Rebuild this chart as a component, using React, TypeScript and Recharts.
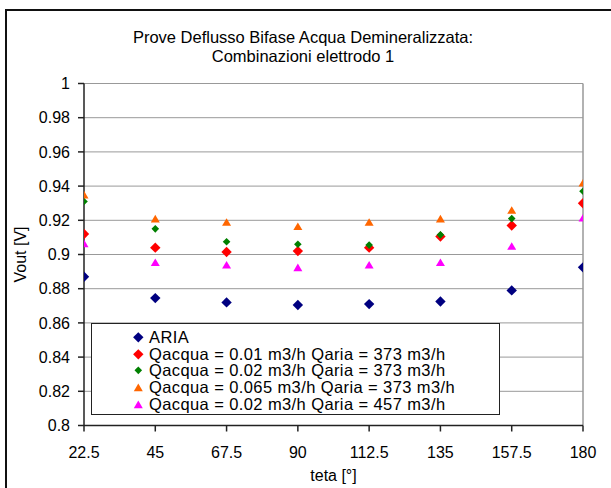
import React from 'react';
import {
  ScatterChart,
  Scatter,
  XAxis,
  YAxis,
  CartesianGrid,
  ReferenceLine,
  Legend,
  Label,
} from 'recharts';

const titleLines = ['Prove Deflusso Bifase Acqua Demineralizzata:', 'Combinazioni elettrodo 1'];
const xTitle = 'teta [°]';
const yTitle = 'Vout [V]';

const theta = [22.5, 45, 67.5, 90, 112.5, 135, 157.5, 180];
const xTicks = [22.5, 45, 67.5, 90, 112.5, 135, 157.5, 180];
const yTicks = [0.8, 0.82, 0.84, 0.86, 0.88, 0.9, 0.92, 0.94, 0.96, 0.98, 1];

const aria = [0.887, 0.8745, 0.872, 0.8705, 0.871, 0.8725, 0.879, 0.8925];
const q001 = [0.912, 0.904, 0.9015, 0.902, 0.904, 0.9105, 0.917, 0.93];
const q002 = [0.931, 0.915, 0.9075, 0.906, 0.9055, 0.9115, 0.921, 0.937];
const q0065 = [0.935, 0.921, 0.919, 0.9165, 0.919, 0.921, 0.926, 0.942];
const q002b = [0.9065, 0.8955, 0.894, 0.8925, 0.894, 0.8955, 0.905, 0.9215];

const seriesNames = [
  'ARIA',
  'Qacqua = 0.01 m3/h Qaria = 373 m3/h',
  'Qacqua = 0.02 m3/h Qaria = 373 m3/h',
  'Qacqua = 0.065 m3/h Qaria = 373 m3/h',
  'Qacqua = 0.02 m3/h Qaria = 457 m3/h',
];
const seriesValues = [aria, q001, q002, q0065, q002b];
const seriesColors = ['#000080', '#FF0000', '#008000', '#FF6600', '#FF00FF'];
const seriesShapes = ['diamond', 'diamond', 'smallDiamond', 'triangle', 'triangle'];

const FONT = '"Liberation Sans", Arial, sans-serif';

function markerPath(kind: string, cx: number, cy: number): string {
  if (kind === 'diamond') {
    const r = 5.2;
    return `M${cx},${cy - r}L${cx + r},${cy}L${cx},${cy + r}L${cx - r},${cy}Z`;
  }
  if (kind === 'smallDiamond') {
    const r = 3.8;
    return `M${cx},${cy - r}L${cx + r},${cy}L${cx},${cy + r}L${cx - r},${cy}Z`;
  }
  const w = 4.5;
  const h = 3.8;
  return `M${cx},${cy - h}L${cx + w},${cy + h}L${cx - w},${cy + h}Z`;
}

const makeShape = (kind: string, color: string) => (props: any) => {
  const { cx, cy } = props;
  if (cx == null || cy == null) return <g />;
  return <path d={markerPath(kind, cx, cy)} fill={color} stroke="none" />;
};

const seriesData = seriesValues.map((vals) => theta.map((t, i) => ({ x: t, y: vals[i] })));

const LegendBox = () => (
  <div
    style={{
      boxSizing: 'border-box',
      width: 409,
      height: 92,
      border: '1.5px solid #222',
      background: '#fff',
      paddingTop: 5,
      fontFamily: FONT,
      fontSize: 16.5,
      letterSpacing: '0.4px',
      color: '#000',
    }}
  >
    {seriesNames.map((n, i) => (
      <div key={n} style={{ display: 'flex', alignItems: 'center', height: 16.7, lineHeight: '16.7px', whiteSpace: 'nowrap' }}>
        <svg width={57} height={16.7} style={{ flex: 'none' }}>
          <path d={markerPath(seriesShapes[i], 46.3, 8.35)} fill={seriesColors[i]} />
        </svg>
        <span>{n}</span>
      </div>
    ))}
  </div>
);

const fmtY = (v: number) => String(Number(v.toFixed(2)));

export default function App() {
  return (
    <div style={{ position: 'absolute', left: 0, top: 0, width: 611, height: 488, overflow: 'hidden', background: '#fff' }}>
      <div
        style={{
          position: 'absolute',
          left: 5,
          top: 9,
          width: 700,
          height: 700,
          border: '2px solid #111',
          boxSizing: 'border-box',
        }}
      />
      <div style={{ position: 'absolute', left: 0, top: 0 }}>
        <ScatterChart width={611} height={488} margin={{ top: 83.5, right: 28, bottom: 22.5, left: 0 }}>
          <CartesianGrid vertical={false} stroke="#999" strokeWidth={1} />
          <ReferenceLine x={180} stroke="#999" strokeWidth={1.5} ifOverflow="visible" />
          <XAxis
            type="number"
            dataKey="x"
            domain={[22.5, 180]}
            ticks={xTicks}
            interval={0}
            allowDataOverflow
            height={40}
            tickSize={6}
            tickMargin={15}
            axisLine={{ stroke: '#222', strokeWidth: 1.5 }}
            tickLine={{ stroke: '#222', strokeWidth: 1.5 }}
            tick={{ fill: '#000', fontSize: 16, fontFamily: FONT }}
          >
            <Label value={xTitle} position="bottom" offset={4} style={{ fontSize: 16, fontFamily: FONT, fill: '#000' }} />
          </XAxis>
          <YAxis
            type="number"
            dataKey="y"
            domain={[0.8, 1]}
            ticks={yTicks}
            interval={0}
            allowDataOverflow
            width={84}
            tickSize={6}
            tickMargin={8}
            tickFormatter={fmtY}
            axisLine={{ stroke: '#222', strokeWidth: 1.5 }}
            tickLine={{ stroke: '#222', strokeWidth: 1.5 }}
            tick={{ fill: '#000', fontSize: 16, fontFamily: FONT }}
          >
            <Label
              value={yTitle}
              angle={-90}
              position="insideLeft"
              offset={20}
              style={{ textAnchor: 'middle', fontSize: 16, fontFamily: FONT, fill: '#000' }}
            />
          </YAxis>
          <Legend
            layout="vertical"
            align="center"
            verticalAlign="middle"
            content={() => <LegendBox />}
            wrapperStyle={{ position: 'absolute', left: 91, top: 323, width: 409, height: 92 }}
          />
          {seriesNames.map((n, i) => (
            <Scatter
              key={n}
              name={n}
              data={seriesData[i]}
              fill={seriesColors[i]}
              shape={makeShape(seriesShapes[i], seriesColors[i])}
              isAnimationActive={false}
            />
          ))}
        </ScatterChart>
      </div>
      <svg width={611} height={80} style={{ position: 'absolute', left: 0, top: 0 }}>
        <text x={303} y={42.5} textAnchor="middle" fontFamily={FONT} fontSize={16.5} fill="#000">
          {titleLines[0]}
        </text>
        <text x={303} y={62} textAnchor="middle" fontFamily={FONT} fontSize={16.5} fill="#000">
          {titleLines[1]}
        </text>
      </svg>
    </div>
  );
}
